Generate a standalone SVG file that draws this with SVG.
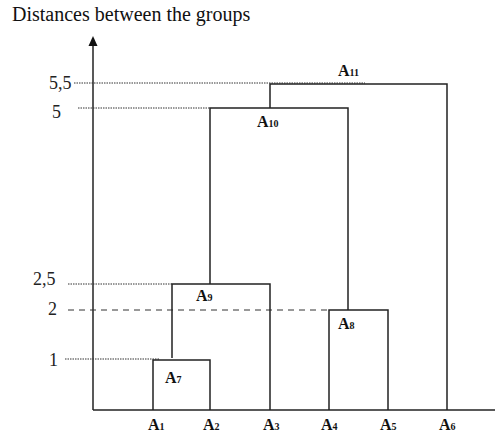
<svg xmlns="http://www.w3.org/2000/svg" width="495" height="435" viewBox="0 0 495 435">
<style>
.t{font-family:"Liberation Serif","Times New Roman","DejaVu Serif",serif;fill:#111}
.lv{font-family:"Liberation Serif","Times New Roman","DejaVu Serif",serif;font-size:18px;fill:#222}
.ln{stroke:#222;stroke-width:1.5;fill:none}
.dot{stroke:#333;stroke-width:1;stroke-dasharray:1.5 1;fill:none}
.dash{stroke:#333;stroke-width:1;stroke-dasharray:6 5;fill:none}
.a{font-family:"Liberation Serif","Times New Roman","DejaVu Serif",serif;font-weight:bold;font-size:16px;fill:#111}
.s{font-size:10px;font-weight:bold}
</style>
<rect width="495" height="435" fill="#fff"/>
<text class="t" x="12" y="21" font-size="20">Distances between the groups</text>
<g id="axes">
<line class="ln" x1="93" y1="44" x2="93" y2="410"/>
<line class="ln" x1="93" y1="410" x2="495" y2="410"/>
<polygon points="93,36 88.5,46 97.5,46" fill="#111"/>
</g>
<g id="levels">
<text class="lv" x="49" y="89">5,5</text>
<line class="dot" x1="74" y1="83" x2="365" y2="83"/>
<text class="lv" x="52" y="118">5</text>
<line class="dot" x1="78" y1="108" x2="210" y2="108"/>
<text class="lv" x="33" y="285">2,5</text>
<line class="dot" x1="68" y1="284" x2="172" y2="284"/>
<text class="lv" x="48" y="315">2</text>
<line class="dash" x1="68" y1="310" x2="330" y2="310"/>
<text class="lv" x="49" y="366">1</text>
<line class="dot" x1="65" y1="359" x2="160" y2="359"/>
</g>
<g id="connectors">
<polyline class="ln" points="153,410 153,360 210,360 210,410"/>
<polyline class="ln" points="172,358 172,284 270,284 270,410"/>
<polyline class="ln" points="329,410 329,310 388,310 388,410"/>
<polyline class="ln" points="210,284 210,108 348,108 348,310"/>
<polyline class="ln" points="270,108 270,84 447,84 447,410"/>
</g>
<g id="A1"><text class="a" x="148" y="430">A<tspan class="s">1</tspan></text></g>
<g id="A2"><text class="a" x="203" y="430">A<tspan class="s">2</tspan></text></g>
<g id="A3"><text class="a" x="263" y="430">A<tspan class="s">3</tspan></text></g>
<g id="A4"><text class="a" x="321" y="430">A<tspan class="s">4</tspan></text></g>
<g id="A5"><text class="a" x="380" y="430">A<tspan class="s">5</tspan></text></g>
<g id="A6"><text class="a" x="439" y="430">A<tspan class="s">6</tspan></text></g>
<g id="A7"><text class="a" x="165" y="383">A<tspan class="s">7</tspan></text></g>
<g id="A8"><text class="a" x="338" y="329">A<tspan class="s">8</tspan></text></g>
<g id="A9"><text class="a" x="196" y="301">A<tspan class="s">9</tspan></text></g>
<g id="A10"><text class="a" x="257" y="127">A<tspan class="s">10</tspan></text></g>
<g id="A11"><text class="a" x="338" y="76">A<tspan class="s">11</tspan></text></g>
</svg>
